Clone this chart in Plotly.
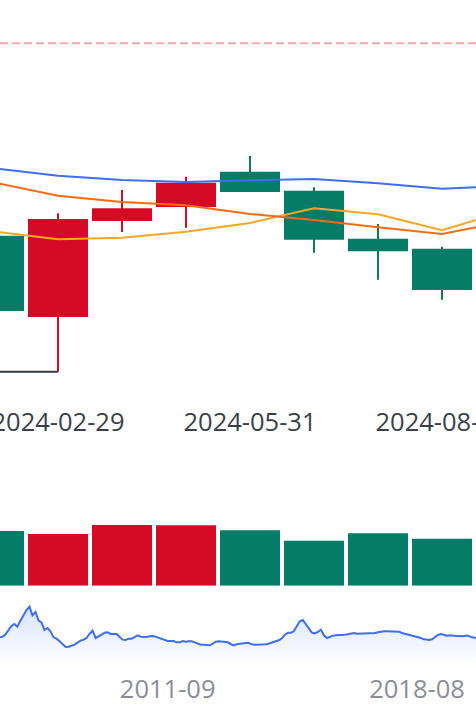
import pandas as pd
import plotly.graph_objects as go

# monthly K-line, last trading day of each month
dates = ["2024-01-31", "2024-02-29", "2024-03-29", "2024-04-30",
         "2024-05-31", "2024-06-28", "2024-07-31", "2024-08-30"]
opens = [2972.5, 2774.3, 3014.3, 3049.0, 3132.5, 3085.0, 2965.0, 2940.0]
highs = [2976.0, 3031.0, 3089.0, 3122.5, 3174.3, 3096.0, 3004.0, 2947.5]
lows = [2724.0, 2635.1, 2984.0, 2995.0, 3085.0, 2932.5, 2865.0, 2815.0]
closes = [2789.3, 3014.3, 3041.0, 3105.0, 3086.8, 2967.5, 2938.5, 2841.8]
volumes = [5470, 5170, 6070, 6040, 5540, 4500, 5240, 4700]

# moving averages run one month past the visible window
ma_dates = dates + ["2024-09-30"]
ma5 = [2985.3, 2966.0, 2970.0, 2985.0, 3006.8, 3043.5, 3028.5, 2988.5, 3036.8]
ma10 = [3108.0, 3075.0, 3059.3, 3051.0, 3029.3, 3014.3, 2996.0, 2979.3, 3010.8]
ma20 = [3143.5, 3125.0, 3114.3, 3109.3, 3113.5, 3116.8, 3106.0, 3092.5, 3099.3]

ref_level = 3456.0
date_ticks = ["2024-02-29", "2024-05-31", "2024-08-30"]

# overview series for the zoom slider, monthly closes from 2007-01
overview_start = "2007-01-01"
overview_close = [
    2744, 2814, 3024, 3443, 3932, 4141, 3862, 4491, 5119, 5609, 5958, 5050,
    5399, 4491, 4316, 3513, 3722, 3373, 2744, 2605, 2325, 1976, 1731, 1766,
    1836, 1976, 2185, 2395, 2500, 2674, 3094, 3443, 2674, 2814, 3024, 3233,
    3268, 3094, 3128, 3094, 2814, 2500, 2465, 2605, 2605, 2744, 2954, 2814,
    2779, 2779, 2849, 2884, 2814, 2709, 2639, 2500, 2360, 2360, 2360, 2220,
    2220, 2360, 2290, 2325, 2325, 2220, 2081, 1976, 1976, 1976, 1906, 2081,
    2290, 2325, 2290, 2220, 2220, 2046, 1906, 2011, 2081, 2116, 2150, 2150,
    2011, 1976, 1976, 1976, 1976, 2011, 2116, 2220, 2290, 2430, 2639, 3024,
    3233, 3233, 3373, 3862, 4421, 4561, 4141, 3652, 3233, 3163, 3303, 3548,
    2954, 2674, 2814, 2919, 2954, 2954, 2989, 3024, 3059, 3094, 3198, 3128,
    3128, 3198, 3163, 3163, 3163, 3198, 3268, 3338, 3373, 3373, 3373, 3338,
    3408, 3338, 3198, 3128, 3059, 2919, 2849, 2779, 2709, 2570, 2500, 2465,
    2535, 2779, 2989, 3094, 2989, 2919, 2954, 2884, 2884, 2884, 2849, 2919,
    2919, 2779, 2674, 2639,
]
overview_ticks = ["2011-09-01", "2018-08-01"]

UP = "#d50b25"
DOWN = "#047c68"
W, H = 476, 720
X_RANGE = [0.09375, 7.53125]   # category index window shown


def dom(top_px, bottom_px):
    # pixel rows -> paper fraction
    return [1 - bottom_px / H, 1 - top_px / H]


overview_dates = pd.date_range(overview_start, periods=len(overview_close), freq="MS")
vol_colors = [UP if c >= o else DOWN for o, c in zip(opens, closes)]

fig = go.Figure()

fig.add_trace(go.Scatter(x=["2024-01-31", "2024-02-29"], y=[min(lows[1:]), min(lows[1:])],
                         mode="lines", line=dict(color="#363b48", width=2),
                         hoverinfo="skip"))
fig.add_trace(go.Candlestick(x=dates, open=opens, high=highs, low=lows, close=closes,
                             increasing=dict(line=dict(color=UP, width=2), fillcolor=UP),
                             decreasing=dict(line=dict(color=DOWN, width=2), fillcolor=DOWN),
                             name="K"))
for vals, col, wd, nm in [(ma5, "#f8a723", 2, "MA5"),
                          (ma10, "#f86b12", 2, "MA10"),
                          (ma20, "#3e6ef3", 2, "MA20")]:
    fig.add_trace(go.Scatter(x=ma_dates, y=vals, mode="lines", name=nm,
                             line=dict(color=col, width=wd)))
fig.add_hline(y=ref_level, line=dict(color="#f7a6aa", width=2, dash="8px,4px"))

fig.add_trace(go.Bar(x=dates, y=volumes, marker=dict(color=vol_colors, line_width=0),
                     xaxis="x2", yaxis="y2", name="Volume"))

fig.add_trace(go.Scatter(x=overview_dates, y=overview_close, mode="lines",
                         line=dict(color="#3e6ef3", width=2),
                         fill="tozeroy",
                         fillgradient=dict(type="vertical", start=0, stop=6000,
                                           colorscale=[[0, "rgba(62,110,243,0)"],
                                                       [1, "rgba(62,110,243,0.2)"]]),
                         xaxis="x3", yaxis="y3", hoverinfo="skip"))

fig.update_layout(
    width=W, height=H,
    margin=dict(l=0, r=0, t=0, b=0, pad=0, autoexpand=False),
    paper_bgcolor="white", plot_bgcolor="white",
    showlegend=False,
    boxgap=0.09375, boxgroupgap=0, bargap=0.0625,
    font=dict(family="Open Sans", size=25.5),
    xaxis=dict(type="category", categoryorder="array", categoryarray=ma_dates,
               range=X_RANGE, anchor="y",
               tickvals=date_ticks, ticks="", showgrid=False, zeroline=False,
               showline=False, tickfont=dict(color="#3a3f4b", size=25.5),
               ticklabelstandoff=4,
               automargin=False, rangeslider=dict(visible=False)),
    yaxis=dict(domain=dom(0, 400), range=[2564.27, 3564.27], visible=False,
               automargin=False),
    xaxis2=dict(type="category", categoryorder="array", categoryarray=ma_dates,
                range=X_RANGE, anchor="y2", showticklabels=False, showgrid=False,
                zeroline=False, showline=False, ticks="", automargin=False),
    yaxis2=dict(domain=dom(505.7, 585.7), range=[0, 8000], visible=False,
                automargin=False),
    xaxis3=dict(type="date", range=["2007-01-06", "2020-03-21"], anchor="y3",
                tickvals=overview_ticks, tickformat="%Y-%m", ticks="",
                showgrid=False, zeroline=False, showline=False, automargin=False,
                ticklabelstandoff=8,
                tickfont=dict(color="#8a8d99", size=25.5)),
    yaxis3=dict(domain=dom(598, 663.5), range=[0, 6866], visible=False,
                automargin=False),
)

# the page's default body margin would shift the 476x720 figure
fig.write_html("out.html", config={"displayModeBar": False},
               post_script="document.body.style.margin = '0';")
